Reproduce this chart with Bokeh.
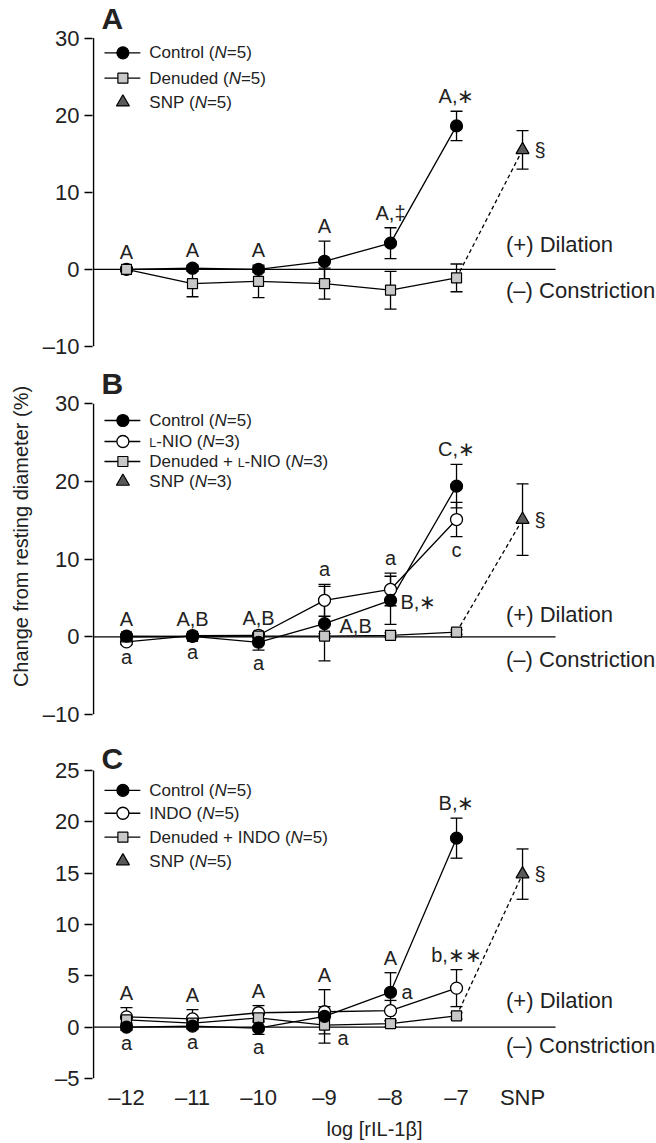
from bokeh.plotting import figure
from bokeh.layouts import column
from bokeh.models import Range1d, FixedTicker, Whisker, ColumnDataSource, TeeHead, Title
from bokeh.core.properties import value
from bokeh.embed import file_html
from bokeh.resources import INLINE

FONT = "Liberation Sans"
TXT = "#222222"
NB = "\u00a0"

# ---------------- data ----------------
doses = [-12, -11, -10, -9, -8, -7]
snp_pos = -6
x_ticks = [-12, -11, -10, -9, -8, -7, -6]
x_tick_labels = ["–12", "–11", "–10", "–9", "–8", "–7", "SNP"]

a_control = [0.0, 0.15, 0.0, 1.05, 3.4, 18.6]
a_control_err = [0.3, 0.4, 0.4, 2.6, 2.0, 1.9]
a_denuded = [0.0, -1.85, -1.55, -1.85, -2.7, -1.1]
a_denuded_err = [0.3, 1.7, 2.1, 2.0, 2.45, 1.8]
a_snp = 15.5
a_snp_err = 2.5

b_control = [0.1, 0.05, -0.7, 1.7, 4.7, 19.4]
b_control_err = [0.3, 0.3, 1.0, 4.8, 3.1, 2.8]
b_lnio = [-0.65, 0.15, 0.2, 4.7, 6.1, 15.1]
b_lnio_err = [0.3, 0.2, 0.3, 2.05, 2.1, 2.2]
b_denuded = [0.0, 0.05, 0.1, 0.1, 0.2, 0.6]
b_denuded_err = [0.2, 0.2, 0.3, 0.3, 0.3, 0.3]
b_snp = 15.1
b_snp_err = 4.6

c_control = [0.0, 0.1, -0.1, 1.05, 3.4, 18.4]
c_control_err = [0.3, 0.3, 0.6, 2.6, 1.9, 1.95]
c_indo = [1.0, 0.8, 1.4, 1.5, 1.6, 3.8]
c_indo_err = [0.9, 0.9, 0.7, 0.5, 1.0, 1.8]
c_denuded = [0.7, 0.4, 0.9, 0.2, 0.35, 1.1]
c_denuded_err = [0.3, 0.3, 0.3, 0.85, 0.3, 0.3]
c_snp = 14.9
c_snp_err = 2.45

a_names = ["Control", "Denuded", "SNP"]
a_n = [5, 5, 5]
b_names = ["Control", "L-NIO", "Denuded + L-NIO", "SNP"]
b_n = [5, 3, 3, 3]
c_names = ["Control", "INDO", "Denuded + INDO", "SNP"]
c_n = [5, 5, 5, 5]

# annotation letters: (text, dose or "SNP", series key or None, placement, dx, dy)
a_notes = [("A", -12, None, "above"), ("A", -11, None, "above"), ("A", -10, None, "above"),
           ("A", -9, None, "above"), ("A,‡", -8, None, "above"), ("A,∗", -7, None, "above"),
           ("§", "SNP", "snp", "right", 12, 0)]
b_notes = [("A", -12, None, "above"), ("A,B", -11, None, "above"), ("A,B", -10, None, "above"),
           ("a", -9, None, "above"), ("a", -8, None, "above"), ("C,∗", -7, None, "above"),
           ("a", -12, None, "below"), ("a", -11, None, "below"), ("a", -10, None, "below"),
           ("c", -7, "open", "below"), ("B,∗", -8, "filled", "right", 10, 2),
           ("A,B", -9, "square", "right", 15, -10), ("§", "SNP", "snp", "right", 12, 0)]
c_notes = [("A", -12, None, "above"), ("A", -11, None, "above"), ("A", -10, None, "above"),
           ("A", -9, None, "above"), ("A", -8, None, "above"), ("B,∗", -7, "filled", "above"),
           ("b,∗∗", -7, "open", "above"),
           ("a", -12, None, "below"), ("a", -11, None, "below"), ("a", -10, None, "below"),
           ("a", -9, "square", "right", 13, 13), ("a", -8, "filled", "right", 11, 0),
           ("§", "SNP", "snp", "right", 12, 0)]

# ---------------- layout constants ----------------
W = 656
ML = 90
UNIT = 66.24
XS = -12.5 - 1.0 / UNIT
XE = XS + (W - ML) / UNIT
AXIS_X = -12.5

ARIAL = {' ': 278, NB: 278, '(': 333, ')': 333, '+': 584, '-': 333, '=': 584, 'A': 667, 'B': 667,
         'C': 722, 'D': 722, 'I': 278, 'L': 556, 'N': 722, 'O': 778, 'P': 667, 'S': 667, 'a': 556,
         'c': 500, 'd': 556, 'e': 556, 'l': 222, 'n': 556, 'o': 556, 'r': 333, 't': 278, 'u': 556}


def tw(s, size):
    return sum(ARIAL.get(ch, 556) for ch in s) / 1000.0 * size


def px_to_x(page_x):
    return XS + (page_x - ML) / UNIT


def draw_marker(p, xs, ys, kind):
    if kind == "filled":
        p.scatter(xs, ys, marker="circle", size=12, fill_color="black", line_color="black", line_width=1.2)
    elif kind == "open":
        p.scatter(xs, ys, marker="circle", size=12, fill_color="white", line_color="black", line_width=1.3)
    elif kind == "square":
        p.scatter(xs, ys, marker="square", size=10, fill_color="#c8c8c8", line_color="black", line_width=1.2)
    else:
        p.scatter(xs, ys, marker="triangle", size=13, fill_color="#595959", line_color="black", line_width=1.2)


def whiskers(p, xs, vals, errs):
    src = ColumnDataSource(dict(x=xs, upper=[v + e for v, e in zip(vals, errs)],
                                lower=[v - e for v, e in zip(vals, errs)]))
    w = Whisker(source=src, base="x", upper="upper", lower="lower", line_color="black", line_width=1.3,
                upper_head=TeeHead(size=12, line_color="black", line_width=1.3),
                lower_head=TeeHead(size=12, line_color="black", line_width=1.3), level="underlay")
    p.add_layout(w)


def txt(p, x, y, s, size, align="left", dx=0, dy=0, style="normal"):
    p.text(x=[x], y=[y], text=[s], x_offset=dx, y_offset=dy, text_font=value(FONT),
           text_font_size=f"{size}px", text_font_style=style, text_align=align,
           text_baseline="middle", text_color=TXT)


def name_segments(name, n):
    segs = []
    parts = name.split("L-NIO")
    for i, part in enumerate(parts):
        if part:
            segs.append((part.replace(" ", NB), 17, "normal", 0))
        if i < len(parts) - 1:
            segs.append(("L", 12.5, "normal", 1.5))
            segs.append(("-NIO", 17, "normal", 0))
    segs += [(NB + "(", 17, "normal", 0), ("N", 17, "italic", 0), (f"={n})", 17, "normal", 0)]
    return segs


def make_panel(letter, top, frame_h, bottom, ys, scale, ticks, series, snp, snp_err, names, ns,
               rows, letter_mid, dil, notes, draw_order, show_x=False):
    ye = ys + frame_h / scale

    def py_to_y(page_y):
        return ye - (page_y - top) / scale

    p = figure(width=W, height=frame_h + bottom, x_range=Range1d(XS, XE), y_range=Range1d(ys, ye),
               output_backend="svg", toolbar_location=None, title=None,
               x_axis_location=("below" if show_x else None),
               min_border_left=ML, min_border_right=0, min_border_top=0, min_border_bottom=bottom)
    p.xgrid.visible = False
    p.ygrid.visible = False
    p.outline_line_color = None
    p.background_fill_color = "white"
    p.border_fill_color = "white"

    ya = p.yaxis[0]
    ya.ticker = FixedTicker(ticks=ticks)
    ya.major_label_overrides = {t: (f"–{abs(t)}" if t < 0 else str(t)) for t in ticks}
    ya.axis_line_color = None
    ya.major_tick_out = 8
    ya.major_tick_in = 0
    ya.major_tick_line_width = 1.5
    ya.major_tick_line_color = "black"
    ya.minor_tick_line_color = None
    ya.major_label_standoff = 5
    ya.major_label_text_font = FONT
    ya.major_label_text_font_size = "22px"
    ya.major_label_text_color = TXT

    if show_x:
        xa = p.xaxis[0]
        xa.ticker = FixedTicker(ticks=x_ticks)
        xa.major_label_overrides = dict(zip(x_ticks, x_tick_labels))
        xa.axis_line_color = None
        xa.major_tick_line_color = None
        xa.minor_tick_line_color = None
        xa.major_label_standoff = 0
        xa.major_label_text_font = FONT
        xa.major_label_text_font_size = "22px"
        xa.major_label_text_color = TXT
        p.add_layout(Title(text="log [rIL-1β]", align="center", offset=-52, text_font=FONT,
                           text_font_size="20px", text_font_style="normal", text_color=TXT,
                           standoff=7), "below")

    # axis line and zero line
    p.segment(x0=[AXIS_X], y0=[ticks[0]], x1=[AXIS_X], y1=[ticks[-1]], line_color="black", line_width=1.5)
    p.segment(x0=[AXIS_X], y0=[0], x1=[snp_pos + 0.5], y1=[0], line_color="black", line_width=1.2)

    # series lines
    for kind in draw_order:
        vals, errs = series[kind]
        p.line(doses, vals, line_color="black", line_width=1.3)
    den_vals = series["square"][0]
    p.line([doses[-1], snp_pos], [den_vals[-1], snp], line_color="black", line_width=1.3, line_dash="4 3")

    for kind in draw_order:
        vals, errs = series[kind]
        whiskers(p, doses, vals, errs)
    whiskers(p, [snp_pos], [snp], [snp_err])

    for kind in draw_order:
        vals, errs = series[kind]
        draw_marker(p, doses, vals, kind)
    draw_marker(p, [snp_pos], [snp], "triangle")

    # annotations
    for spec in notes:
        text, xi, key, place = spec[:4]
        dx, dy = (spec[4], spec[5]) if len(spec) > 4 else (0, 0)
        if xi == "SNP":
            x, vs, es = snp_pos, [snp], [snp_err]
        else:
            i = doses.index(xi)
            x = xi
            keys = [key] if key else list(series.keys())
            vs = [series[k][0][i] for k in keys]
            es = [series[k][1][i] for k in keys]
        if place == "above":
            y = max(v + e for v, e in zip(vs, es))
            txt(p, x, y, text, 20, align="center", dy=-15)
        elif place == "below":
            y = min(v - e for v, e in zip(vs, es))
            txt(p, x, y, text, 20, align="center", dy=13)
        else:
            txt(p, x, vs[0], text, 20, align="left", dx=dx, dy=dy)

    # dilation / constriction
    txt(p, px_to_x(505), 0, "(+) Dilation", 22, dy=dil[0])
    txt(p, px_to_x(505), 0, "(–) Constriction", 22, dy=dil[1])

    # legend
    kinds = [k for k in ["filled", "open", "square"] if k in series] + ["triangle"]
    for kind, name, n, ry in zip(kinds, names, ns, rows):
        y = py_to_y(ry)
        if kind != "triangle":
            p.segment(x0=[px_to_x(102)], y0=[y], x1=[px_to_x(138)], y1=[y], line_color="black", line_width=1.3)
        draw_marker(p, [px_to_x(120.5)], [y], kind)
        off = 0.0
        for s, size, style, sdy in name_segments(name, n):
            txt(p, px_to_x(147), y, s, size, dx=off, dy=sdy, style=style)
            off += tw(s, size)

    # panel letter
    txt(p, px_to_x(99), py_to_y(letter_mid), letter, 30, style="bold")
    return p


pA = make_panel("A", 0, 346, 12, -10, 7.7125, [-10, 0, 10, 20, 30],
                {"filled": (a_control, a_control_err), "square": (a_denuded, a_denuded_err)},
                a_snp, a_snp_err, a_names, a_n, [52.3, 77.7, 101.7], 17.5, (-25, 21), a_notes,
                ["filled", "square"])
pB = make_panel("B", 358, 356, 12, -10, 7.767, [-10, 0, 10, 20, 30],
                {"filled": (b_control, b_control_err), "open": (b_lnio, b_lnio_err),
                 "square": (b_denuded, b_denuded_err)},
                b_snp, b_snp_err, b_names, b_n, [420, 441, 461, 481], 383, (-22, 23), b_notes,
                ["open", "square", "filled"])
pB.add_layout(Title(text="Change from resting diameter (%)", align="center", offset=-6, text_font=FONT,
                    text_font_size="20px", text_font_style="normal", text_color=TXT, standoff=15), "left")
pC = make_panel("C", 726, 353, 64, -5, 10.3, [-5, 0, 5, 10, 15, 20, 25],
                {"filled": (c_control, c_control_err), "open": (c_indo, c_indo_err),
                 "square": (c_denuded, c_denuded_err)},
                c_snp, c_snp_err, c_names, c_n, [790, 813, 837, 861], 758.5, (-27, 18), c_notes,
                ["open", "square", "filled"], show_x=True)

layout = column(pA, pB, pC, spacing=0)
open("out.html", "w").write(file_html(layout, INLINE))
